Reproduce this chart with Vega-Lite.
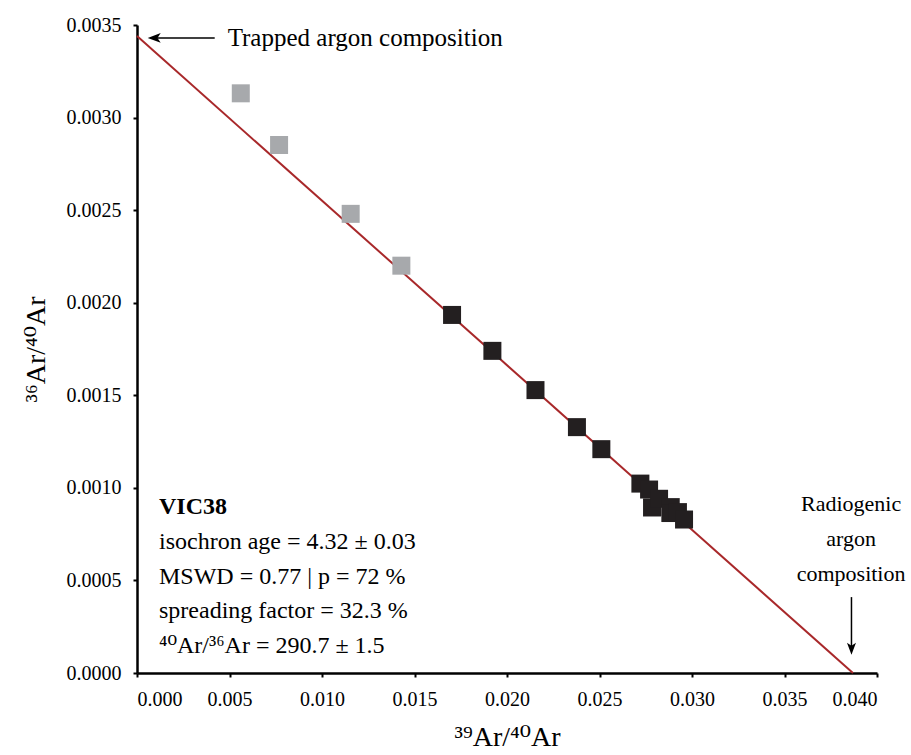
{
  "$schema": "https://vega.github.io/schema/vega-lite/v6.json",
  "width": 740,
  "height": 648,
  "autosize": {"type": "none"},
  "padding": {"left": 137, "top": 25, "right": 34, "bottom": 82},
  "background": "white",
  "config": {
    "view": {"stroke": null},
    "font": "Liberation Serif",
    "axis": {
      "grid": false,
      "domainColor": "black",
      "domainWidth": 2.5,
      "tickColor": "black",
      "tickWidth": 2,
      "tickSize": 4,
      "labelFont": "Liberation Serif",
      "labelFontSize": 20,
      "labelColor": "black",
      "titleFont": "Liberation Serif, DejaVu Serif",
      "titleFontSize": 28,
      "titleFontWeight": "normal",
      "titleColor": "black"
    }
  },
  "datasets": {
    "pts": [
      {"x": 0.00561, "y": 0.003131, "group": "excluded"},
      {"x": 0.00768, "y": 0.002852, "group": "excluded"},
      {"x": 0.01155, "y": 0.002480, "group": "excluded"},
      {"x": 0.01429, "y": 0.002200, "group": "excluded"},
      {"x": 0.01703, "y": 0.001934, "group": "included"},
      {"x": 0.01921, "y": 0.001740, "group": "included"},
      {"x": 0.02154, "y": 0.001528, "group": "included"},
      {"x": 0.02378, "y": 0.001328, "group": "included"},
      {"x": 0.02510, "y": 0.001209, "group": "included"},
      {"x": 0.02721, "y": 0.001023, "group": "included"},
      {"x": 0.02768, "y": 0.000991, "group": "included"},
      {"x": 0.02784, "y": 0.000894, "group": "included"},
      {"x": 0.02822, "y": 0.000941, "group": "included"},
      {"x": 0.02885, "y": 0.000896, "group": "included"},
      {"x": 0.02883, "y": 0.000864, "group": "included"},
      {"x": 0.02924, "y": 0.000869, "group": "included"},
      {"x": 0.02957, "y": 0.000829, "group": "included"}
    ],
    "fit": [
      {"x": 0, "y": 0.00344},
      {"x": 0.0387, "y": 0}
    ],
    "info": [
      {"x": 0.00119, "y": 0.000710, "text": "isochron age = 4.32 ± 0.03"},
      {"x": 0.00119, "y": 0.000521, "text": "MSWD = 0.77 | p = 72 %"},
      {"x": 0.00119, "y": 0.000333, "text": "spreading factor = 32.3 %"},
      {"x": 0.00119, "y": 0.000144, "text": "⁴⁰Ar/³⁶Ar = 290.7 ± 1.5"}
    ],
    "title": [
      {"x": 0.00119, "y": 0.000899, "text": "VIC38"}
    ],
    "radio": [
      {"x": 0.0386, "y": 0.000914, "text": "Radiogenic"},
      {"x": 0.0386, "y": 0.000725, "text": "argon"},
      {"x": 0.0386, "y": 0.000536, "text": "composition"}
    ],
    "trapped": [
      {"x": 0.0049, "y": 0.00343, "text": "Trapped argon composition"}
    ],
    "arrowLines": [
      {"x": 0.0008, "y": 0.00343, "x2": 0.0042, "y2": 0.00343},
      {"x": 0.03862, "y": 0.00041, "x2": 0.03862, "y2": 0.00013}
    ],
    "headLeft": [{"x": 0.00093, "y": 0.00343}],
    "headDown": [{"x": 0.03862, "y": 0.000131}]
  },
  "layer": [
    {
      "data": {"name": "fit"},
      "mark": {"type": "line", "color": "#a8282a", "strokeWidth": 2},
      "encoding": {
        "x": {
          "field": "x", "type": "quantitative",
          "scale": {"domain": [0, 0.04], "nice": false, "zero": false},
          "axis": {
            "values": [0, 0.005, 0.01, 0.015, 0.02, 0.025, 0.03, 0.035, 0.04],
            "format": ".3f",
            "labelFont": "Liberation Serif",
            "labelPadding": 12,
            "title": "³⁹Ar/⁴⁰Ar",
            "titlePadding": 14
          }
        },
        "y": {
          "field": "y", "type": "quantitative",
          "scale": {"domain": [0, 0.0035], "nice": false, "zero": false},
          "axis": {
            "values": [0, 0.0005, 0.001, 0.0015, 0.002, 0.0025, 0.003, 0.0035],
            "format": ".4f",
            "labelFont": "Liberation Serif",
            "labelPadding": 12,
            "title": "³⁶Ar/⁴⁰Ar",
            "titlePadding": 16
          }
        }
      }
    },
    {
      "data": {"name": "pts"},
      "mark": {"type": "point", "shape": "square", "filled": true, "size": 324, "opacity": 1},
      "encoding": {
        "x": {"field": "x", "type": "quantitative"},
        "y": {"field": "y", "type": "quantitative"},
        "color": {
          "field": "group", "type": "nominal",
          "scale": {"domain": ["excluded", "included"], "range": ["#a7a9ac", "#231f20"]},
          "legend": null
        }
      }
    },
    {
      "data": {"name": "arrowLines"},
      "mark": {"type": "rule", "color": "black", "strokeWidth": 1.5},
      "encoding": {
        "x": {"field": "x", "type": "quantitative"},
        "y": {"field": "y", "type": "quantitative"},
        "x2": {"field": "x2"},
        "y2": {"field": "y2"}
      }
    },
    {
      "data": {"name": "headLeft"},
      "mark": {"type": "point", "shape": "M-1,0L1,-0.75L0.5,0L1,0.75Z", "filled": true, "size": 169, "color": "black", "opacity": 1},
      "encoding": {
        "x": {"field": "x", "type": "quantitative"},
        "y": {"field": "y", "type": "quantitative"}
      }
    },
    {
      "data": {"name": "headDown"},
      "mark": {"type": "point", "shape": "M0,1L-0.75,-1L0,-0.5L0.75,-1Z", "filled": true, "size": 144, "color": "black", "opacity": 1},
      "encoding": {
        "x": {"field": "x", "type": "quantitative"},
        "y": {"field": "y", "type": "quantitative"}
      }
    },
    {
      "data": {"name": "info"},
      "mark": {"type": "text", "align": "left", "baseline": "middle", "fontSize": 24, "font": "Liberation Serif, DejaVu Serif", "color": "black"},
      "encoding": {
        "x": {"field": "x", "type": "quantitative"},
        "y": {"field": "y", "type": "quantitative"},
        "text": {"field": "text"}
      }
    },
    {
      "data": {"name": "title"},
      "mark": {"type": "text", "align": "left", "baseline": "middle", "fontSize": 24, "fontWeight": "bold", "font": "Liberation Serif", "color": "black"},
      "encoding": {
        "x": {"field": "x", "type": "quantitative"},
        "y": {"field": "y", "type": "quantitative"},
        "text": {"field": "text"}
      }
    },
    {
      "data": {"name": "radio"},
      "mark": {"type": "text", "align": "center", "baseline": "middle", "fontSize": 22, "font": "Liberation Serif", "color": "black"},
      "encoding": {
        "x": {"field": "x", "type": "quantitative"},
        "y": {"field": "y", "type": "quantitative"},
        "text": {"field": "text"}
      }
    },
    {
      "data": {"name": "trapped"},
      "mark": {"type": "text", "align": "left", "baseline": "middle", "fontSize": 25, "font": "Liberation Serif", "color": "black"},
      "encoding": {
        "x": {"field": "x", "type": "quantitative"},
        "y": {"field": "y", "type": "quantitative"},
        "text": {"field": "text"}
      }
    }
  ]
}
